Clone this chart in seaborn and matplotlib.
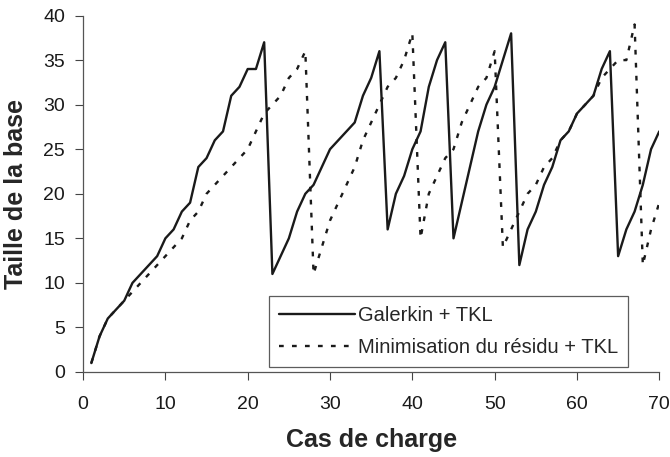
import numpy as np
import pandas as pd
import matplotlib
matplotlib.use("Agg")
import matplotlib.pyplot as plt
import seaborn as sns

# load cases 1..70
cas = list(range(1, 71))

galerkin = [1, 4, 6, 7, 8, 10, 11, 12, 13, 15,
            16, 18, 19, 23, 24, 26, 27, 31, 32, 34,
            34, 37, 11, 13, 15, 18, 20, 21, 23, 25,
            26, 27, 28, 31, 33, 36, 16, 20, 22, 25,
            27, 32, 35, 37, 15, 19, 23, 27, 30, 32,
            35, 38, 12, 16, 18, 21, 23, 26, 27, 29,
            30, 31, 34, 36, 13, 16, 18, 21, 25, 27]

residu = [1, 4, 6, 7, 8, 9, 10, 11, 12, 13,
          14, 15, 17, 18, 20, 21, 22, 23, 24, 25,
          27, 29, 30, 31, 33, 34, 36, 11, 14, 17,
          19, 21, 23, 26, 28, 30, 32, 33, 35, 38,
          15, 20, 22, 24, 25, 28, 30, 32, 33, 36,
          14, 16, 18, 20, 21, 23, 24, 26, 27, 29,
          30, 31, 33, 34, 35, 35, 39, 12, 16, 19]

labels = ["Galerkin + TKL", "Minimisation du résidu + TKL"]

df = pd.DataFrame({
    "cas": cas * 2,
    "taille": galerkin + residu,
    "methode": [labels[0]] * len(cas) + [labels[1]] * len(cas),
})

sns.set_theme(style="ticks")
plt.rcParams["font.family"] = ["Liberation Sans", "DejaVu Sans"]

fig, ax = plt.subplots(figsize=(6.7, 4.57), dpi=100)
fig.subplots_adjust(left=0.124, right=0.984, top=0.966, bottom=0.186)

sns.lineplot(data=df, x="cas", y="taille", hue="methode", style="methode",
             palette=["#1a1a1a", "#1a1a1a"], dashes=["", (2.0, 3.5)],
             linewidth=1.7, legend=False, ax=ax)

ax.set_xlim(0, 70)
ax.set_ylim(0, 40)
ax.set_xticks(np.arange(0, 71, 10))
ax.set_yticks(np.arange(0, 41, 5))
ax.tick_params(labelsize=14, length=6, width=0.8, colors="#444444", labelcolor="#1a1a1a")
ax.tick_params(axis="x", pad=11)
ax.tick_params(axis="y", pad=7)
for side in ["left", "bottom"]:
    ax.spines[side].set_color("#555555")
    ax.spines[side].set_linewidth(0.9)
sns.despine(ax=ax)

ax.set_xlabel("Cas de charge", fontsize=18, fontweight="bold", labelpad=11)
ax.set_ylabel("Taille de la base", fontsize=18, fontweight="bold", labelpad=11)

handles = ax.get_lines()
leg = ax.legend(handles[:2], labels, loc="lower right", bbox_to_anchor=(0.946, 0.014),
                fontsize=14.5, frameon=True, fancybox=False, handlelength=3.75,
                handletextpad=0.15, borderpad=0.5, labelspacing=0.65, borderaxespad=0)
leg.get_frame().set_edgecolor("#333333")
leg.get_frame().set_linewidth(0.9)

fig.savefig("out.png", dpi=100)
